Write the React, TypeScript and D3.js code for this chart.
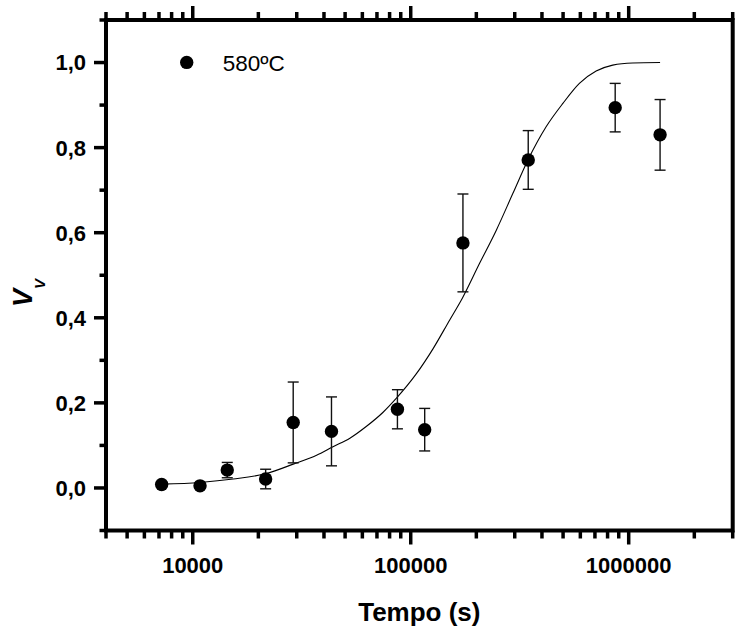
import React, { useRef, useEffect } from 'react';
import * as d3 from 'd3';

// measured points (time in s, volume fraction, error)
const times = [7200, 10800, 14400, 21600, 28900, 43300, 86900, 115900, 173600, 346000, 867000, 1393000];
const fractions = [0.008, 0.005, 0.042, 0.021, 0.154, 0.133, 0.185, 0.137, 0.576, 0.771, 0.894, 0.83];
const errors = [0.006, 0.006, 0.018, 0.023, 0.095, 0.081, 0.046, 0.05, 0.115, 0.069, 0.057, 0.083];

// fitted curve
const fitTimes = [
  7200, 10800, 15350, 21800, 28900, 37000, 44000, 52600, 62700, 74700, 86000, 106000, 126500,
  151000, 172500, 207000, 247000, 294000, 345000, 418000, 499000, 594000, 709000, 845000,
  1042000, 1393000,
];
const fitValues = [
  0.009, 0.013, 0.021, 0.034, 0.056, 0.077, 0.097, 0.117, 0.145, 0.178, 0.211, 0.268, 0.327,
  0.395, 0.446, 0.528, 0.606, 0.692, 0.771, 0.849, 0.904, 0.951, 0.98, 0.994, 0.999, 1.0,
];

const xTickLabels = [10000, 100000, 1000000];
const legendLabel = '580ºC';

const WIDTH = 735;
const HEIGHT = 630;
const FONT = '"Liberation Sans", Arial, sans-serif';

const ptBR = d3.formatLocale({ decimal: ',', thousands: '.', grouping: [3], currency: ['R$', ''] });

const App: React.FC = () => {
  const svgRef = useRef<SVGSVGElement>(null);

  useEffect(() => {
    if (!svgRef.current) return;
    const svg = d3.select(svgRef.current);
    svg.selectAll('*').remove();

    const x = d3.scaleLog().domain([4000, 3e6]).range([106, 732.7]);
    const y = d3.scaleLinear().domain([-0.1, 1.1]).range([530.5, 20]);
    const [x0, x1] = x.range();
    const [yb, yt] = y.range();

    const isDecade = (t: number) => Math.abs(Math.log10(t) - Math.round(Math.log10(t))) < 1e-9;

    // x ticks, bottom and top, pointing out
    const xt = svg.append('g').attr('stroke', '#000').attr('stroke-width', 3.5);
    x.ticks().forEach((t) => {
      const len = isDecade(t) ? 14 : 8;
      xt.append('line').attr('x1', x(t)).attr('x2', x(t)).attr('y1', yb).attr('y2', yb + len);
      xt.append('line').attr('x1', x(t)).attr('x2', x(t)).attr('y1', yt).attr('y2', yt - len);
    });

    // y ticks on the left
    const yTicks = y.ticks(12);
    const isMajorY = (v: number) => Math.round(v * 10) % 2 === 0;
    const ytg = svg.append('g').attr('stroke', '#000').attr('stroke-width', 3.5);
    yTicks.forEach((v) => {
      ytg
        .append('line')
        .attr('x1', x0)
        .attr('x2', x0 - (isMajorY(v) ? 12 : 6.5))
        .attr('y1', y(v))
        .attr('y2', y(v));
    });

    // frame
    svg
      .append('rect')
      .attr('x', x0)
      .attr('y', yt)
      .attr('width', x1 - x0)
      .attr('height', yb - yt)
      .attr('fill', 'none')
      .attr('stroke', '#000')
      .attr('stroke-width', 4);

    // tick labels
    const fmt = ptBR.format('.1f');
    svg
      .append('g')
      .selectAll('text')
      .data(yTicks.filter(isMajorY))
      .join('text')
      .attr('x', 86)
      .attr('y', (d) => y(d))
      .attr('dy', '0.36em')
      .attr('text-anchor', 'end')
      .attr('font-family', FONT)
      .attr('font-weight', 'bold')
      .attr('font-size', 22)
      .text((d) => fmt(Math.abs(d) < 1e-9 ? 0 : d));

    svg
      .append('g')
      .selectAll('text')
      .data(xTickLabels)
      .join('text')
      .attr('x', (d) => x(d))
      .attr('y', 572.5)
      .attr('text-anchor', 'middle')
      .attr('font-family', FONT)
      .attr('font-weight', 'bold')
      .attr('font-size', 22)
      .text((d) => String(d));

    // axis titles
    svg
      .append('text')
      .attr('x', (x0 + x1) / 2)
      .attr('y', 621)
      .attr('text-anchor', 'middle')
      .attr('font-family', FONT)
      .attr('font-weight', 'bold')
      .attr('font-size', 26)
      .text('Tempo (s)');

    const yTitle = svg
      .append('text')
      .attr('transform', 'translate(32,307) rotate(-90)')
      .attr('font-family', FONT)
      .attr('font-weight', 'bold')
      .attr('font-style', 'italic')
      .attr('font-size', 27);
    yTitle.append('tspan').text('V');
    yTitle.append('tspan').attr('dy', 13).attr('font-size', 15).text('V');

    // fitted curve
    const line = d3
      .line<number>()
      .x((d) => x(d))
      .y((_, i) => y(fitValues[i]))
      .curve(d3.curveMonotoneX);
    svg
      .append('path')
      .attr('d', line(fitTimes))
      .attr('fill', 'none')
      .attr('stroke', '#000')
      .attr('stroke-width', 1.1);

    // error bars
    const eb = svg.append('g').attr('stroke', '#111').attr('stroke-width', 1.4);
    times.forEach((t, i) => {
      const cx = x(t);
      const top = y(fractions[i] + errors[i]);
      const bot = y(fractions[i] - errors[i]);
      eb.append('line').attr('x1', cx).attr('x2', cx).attr('y1', top).attr('y2', bot);
      eb.append('line').attr('x1', cx - 5.5).attr('x2', cx + 5.5).attr('y1', top).attr('y2', top);
      eb.append('line').attr('x1', cx - 5.5).attr('x2', cx + 5.5).attr('y1', bot).attr('y2', bot);
    });

    // markers
    svg
      .append('g')
      .selectAll('circle')
      .data(times)
      .join('circle')
      .attr('cx', (d) => x(d))
      .attr('cy', (_, i) => y(fractions[i]))
      .attr('r', 6.7)
      .attr('fill', '#000');

    // legend
    const legend = svg.append('g').attr('transform', 'translate(186.7,62.4)');
    legend.append('circle').attr('r', 6.7).attr('fill', '#000');
    legend
      .append('text')
      .attr('x', 36)
      .attr('y', 9)
      .attr('font-family', FONT)
      .attr('font-size', 22.5)
      .text(legendLabel);
  }, []);

  return (
    <svg
      ref={svgRef}
      width={WIDTH}
      height={HEIGHT}
      style={{ position: 'absolute', left: 0, top: 0, background: '#fff' }}
    />
  );
};

export default App;
